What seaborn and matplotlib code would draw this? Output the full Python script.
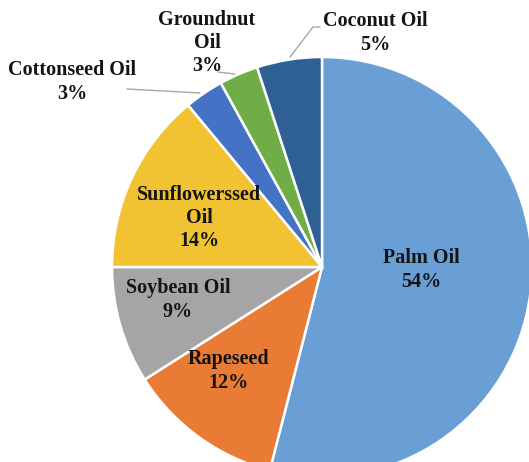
import matplotlib
matplotlib.use("Agg")
import matplotlib.pyplot as plt
import seaborn as sns

categories = ["Palm Oil", "Rapeseed", "Soybean Oil", "Sunflowerssed\nOil",
              "Cottonseed Oil", "Groundnut\nOil", "Coconut Oil"]
shares = [54, 12, 9, 14, 3, 3, 5]
colors = ["#6A9FD6", "#E97B35", "#A5A5A5", "#F1C232", "#4472C4", "#70AD47", "#2F6094"]

sns.set_theme(style="white")
plt.rcParams["font.family"] = ["Liberation Serif", "DejaVu Serif"]

W, H = 529, 462
fig = plt.figure(figsize=(W / 100, H / 100), dpi=100)
ax = fig.add_axes([0, 0, 1, 1])

cx, cy, r = 322, H - 267, 210
ax.pie(shares, colors=colors, startangle=90, counterclock=False,
       center=(cx, cy), radius=r,
       wedgeprops=dict(edgecolor="white", linewidth=1.8))
ax.set_xlim(0, W)
ax.set_ylim(0, H)
ax.set_aspect("equal")
ax.axis("off")

# label positions in pixel coordinates (x, y from top)
label_pos = [(421, 270), (228, 371), (178, 300), (199, 218),
             (72, 82), (207, 43), (375, 33)]
for name, val, (px, py) in zip(categories, shares, label_pos):
    ax.text(px, H - py, f"{name}\n{val}%", ha="center", va="center",
            fontsize=14.5, fontweight="bold", color="#141414",
            linespacing=1.22)

# leader lines
lc = "#A6A6A6"
ax.plot([127, 200], [H - 89, H - 93], color=lc, lw=1)
ax.plot([218, 235], [H - 72, H - 74], color=lc, lw=1)
ax.plot([320, 313, 290], [H - 27, H - 27, H - 57], color=lc, lw=1)

fig.savefig("out.png", dpi=100)
